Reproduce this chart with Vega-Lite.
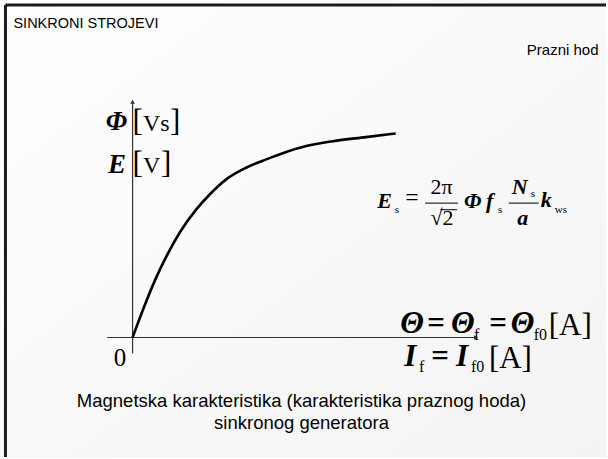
{
  "$schema": "https://vega.github.io/schema/vega-lite/v6.json",
  "width": 608,
  "height": 459,
  "autosize": {"type": "fit", "contains": "padding"},
  "padding": 0,
  "background": "#ffffff",
  "config": {"view": {"stroke": null}},
  "datasets": {
    "sheet": [{"x0": -0.5038, "x1": 1.7992, "y0": -0.5854, "y1": 1.6537}],
    "frame": [
      {"x": -0.483, "x2": -0.483, "y": -0.5854, "y2": 1.629},
      {"x": -0.483, "x2": 1.7992, "y": 1.629, "y2": 1.629}
    ],
    "axes": [
      {"x": 0, "x2": 0, "y": -0.078, "y2": 1.155},
      {"x": -0.0966, "x2": 1.30, "y": 0, "y2": 0}
    ],
    "arrowUp": [{"x": 0, "y": 1.155}],
    "arrowRight": [{"x": 1.305, "y": 0}],
    "curve": [
      {"theta": 0.0, "value": 0.0},
      {"theta": 0.041, "value": 0.141},
      {"theta": 0.085, "value": 0.280},
      {"theta": 0.130, "value": 0.401},
      {"theta": 0.180, "value": 0.516},
      {"theta": 0.243, "value": 0.629},
      {"theta": 0.294, "value": 0.702},
      {"theta": 0.357, "value": 0.776},
      {"theta": 0.433, "value": 0.833},
      {"theta": 0.508, "value": 0.873},
      {"theta": 0.584, "value": 0.909},
      {"theta": 0.660, "value": 0.938},
      {"theta": 0.761, "value": 0.962},
      {"theta": 0.887, "value": 0.982},
      {"theta": 1.0, "value": 1.0}
    ],
    "headLeft": [{"text": "SINKRONI STROJEVI", "x": -0.4527, "y": 1.5171}],
    "headRight": [{"text": "Prazni hod", "x": 1.7708, "y": 1.3854}],
    "caption": [
      {"text": "Magnetska karakteristika (karakteristika praznog hoda)", "x": 0.642, "y": -0.3415},
      {"text": "sinkronog generatora", "x": 0.642, "y": -0.4488}
    ],
    "axisVars": [
      {"text": "Φ", "x": -0.0208, "y": 1.0146},
      {"text": "E", "x": -0.0246, "y": 0.8083}
    ],
    "axisBrackets": [
      {"text": "[", "x": 0.0, "y": 1.0122},
      {"text": "]", "x": 0.1420, "y": 1.0122},
      {"text": "[", "x": 0.0, "y": 0.8049},
      {"text": "]", "x": 0.1080, "y": 0.8049}
    ],
    "axisUnits": [
      {"text": "Vs", "x": 0.0398, "y": 1.0122},
      {"text": "V", "x": 0.0398, "y": 0.8049}
    ],
    "zero": [{"text": "0", "x": -0.0473, "y": -0.1415}],
    "eqVarsLeft": [
      {"text": "E", "x": 0.9299, "y": 0.6341},
      {"text": "Φ", "x": 1.2595, "y": 0.6341},
      {"text": "f", "x": 1.3428, "y": 0.6341},
      {"text": "k", "x": 1.5511, "y": 0.6390}
    ],
    "eqVarsCenter": [
      {"text": "N", "x": 1.4716, "y": 0.7024},
      {"text": "a", "x": 1.4830, "y": 0.5512}
    ],
    "eqNumCenter": [
      {"text": "2π", "x": 1.1742, "y": 0.7024},
      {"text": "√2", "x": 1.1761, "y": 0.5512}
    ],
    "eqSign": [{"text": "=", "x": 1.0360, "y": 0.6488}],
    "eqSubs": [
      {"text": "s", "x": 0.9962, "y": 0.6098},
      {"text": "s", "x": 1.3883, "y": 0.6098},
      {"text": "s", "x": 1.5133, "y": 0.6878},
      {"text": "ws", "x": 1.6042, "y": 0.6098}
    ],
    "eqBars": [
      {"x": 1.1117, "x2": 1.2368, "y": 0.6585, "y2": 0.6585},
      {"x": 1.4299, "x2": 1.5436, "y": 0.6585, "y2": 0.6585},
      {"x": 1.1700, "x2": 1.2330, "y": 0.6262, "y2": 0.6262}
    ],
    "bigVars": [
      {"text": "Θ", "x": 1.0170, "y": 0.0244},
      {"text": "=", "x": 1.1193, "y": 0.0244},
      {"text": "Θ", "x": 1.2102, "y": 0.0244},
      {"text": "=", "x": 1.3542, "y": 0.0244},
      {"text": "Θ", "x": 1.4375, "y": 0.0244},
      {"text": "I", "x": 1.0322, "y": -0.1415},
      {"text": "=", "x": 1.1345, "y": -0.1415},
      {"text": "I", "x": 1.2292, "y": -0.1415}
    ],
    "bigSubs": [
      {"text": "f", "x": 1.2973, "y": -0.0098},
      {"text": "f0", "x": 1.5246, "y": -0.0098},
      {"text": "f", "x": 1.0890, "y": -0.1707},
      {"text": "f0", "x": 1.2860, "y": -0.1707}
    ],
    "bigUnits": [
      {"text": "[A]", "x": 1.5814, "y": 0.0146},
      {"text": "[A]", "x": 1.3542, "y": -0.1512}
    ]
  },
  "encoding": {
    "x": {"field": "x", "type": "quantitative", "scale": {"domain": [-0.5038, 1.7992], "nice": false, "zero": false}, "axis": null},
    "y": {"field": "y", "type": "quantitative", "scale": {"domain": [-0.5854, 1.6537], "nice": false, "zero": false}, "axis": null}
  },
  "layer": [
    {
      "data": {"name": "sheet"},
      "mark": {"type": "rect", "fill": {"gradient": "linear", "x1": 0, "y1": 0, "x2": 1, "y2": 1, "stops": [{"offset": 0, "color": "#ffffff"}, {"offset": 1, "color": "#f3f3f3"}]}},
      "encoding": {
        "x": {"field": "x0", "type": "quantitative"},
        "x2": {"field": "x1"},
        "y": {"field": "y0", "type": "quantitative"},
        "y2": {"field": "y1"}
      }
    },
    {
      "data": {"name": "frame"},
      "mark": {"type": "rule", "color": "#1c1c1c", "strokeWidth": 3},
      "encoding": {"x2": {"field": "x2"}, "y2": {"field": "y2"}}
    },
    {
      "data": {"name": "axes"},
      "mark": {"type": "rule", "color": "#333333", "strokeWidth": 1.2},
      "encoding": {"x2": {"field": "x2"}, "y2": {"field": "y2"}}
    },
    {
      "data": {"name": "arrowUp"},
      "mark": {"type": "point", "shape": "triangle-up", "filled": true, "color": "#333333", "size": 22, "opacity": 1}
    },
    {
      "data": {"name": "arrowRight"},
      "mark": {"type": "point", "shape": "triangle-right", "filled": true, "color": "#333333", "size": 22, "opacity": 1}
    },
    {
      "data": {"name": "curve"},
      "mark": {"type": "line", "color": "#000000", "strokeWidth": 2.6, "interpolate": "monotone"},
      "encoding": {
        "x": {"field": "theta", "type": "quantitative"},
        "y": {"field": "value", "type": "quantitative"}
      }
    },
    {
      "data": {"name": "headLeft"},
      "mark": {"type": "text", "font": "Liberation Sans", "fontSize": 14.5, "align": "left", "baseline": "alphabetic", "color": "#000000"},
      "encoding": {"text": {"field": "text"}}
    },
    {
      "data": {"name": "headRight"},
      "mark": {"type": "text", "font": "Liberation Sans", "fontSize": 15, "align": "right", "baseline": "alphabetic", "color": "#000000"},
      "encoding": {"text": {"field": "text"}}
    },
    {
      "data": {"name": "caption"},
      "mark": {"type": "text", "font": "Liberation Sans", "fontSize": 18.5, "align": "center", "baseline": "alphabetic", "color": "#000000"},
      "encoding": {"text": {"field": "text"}}
    },
    {
      "data": {"name": "axisVars"},
      "mark": {"type": "text", "font": "Liberation Serif", "fontSize": 27, "fontWeight": "bold", "fontStyle": "italic", "align": "right", "baseline": "alphabetic", "color": "#000000"},
      "encoding": {"text": {"field": "text"}}
    },
    {
      "data": {"name": "axisBrackets"},
      "mark": {"type": "text", "font": "Liberation Serif", "fontSize": 31, "align": "left", "baseline": "alphabetic", "color": "#000000"},
      "encoding": {"text": {"field": "text"}}
    },
    {
      "data": {"name": "axisUnits"},
      "mark": {"type": "text", "font": "Liberation Serif", "fontSize": 24, "align": "left", "baseline": "alphabetic", "color": "#000000"},
      "encoding": {"text": {"field": "text"}}
    },
    {
      "data": {"name": "zero"},
      "mark": {"type": "text", "font": "Liberation Serif", "fontSize": 25, "align": "center", "baseline": "alphabetic", "color": "#000000"},
      "encoding": {"text": {"field": "text"}}
    },
    {
      "data": {"name": "eqVarsLeft"},
      "mark": {"type": "text", "font": "Liberation Serif", "fontSize": 22, "fontWeight": "bold", "fontStyle": "italic", "align": "left", "baseline": "alphabetic", "color": "#000000"},
      "encoding": {"text": {"field": "text"}}
    },
    {
      "data": {"name": "eqVarsCenter"},
      "mark": {"type": "text", "font": "Liberation Serif", "fontSize": 22, "fontWeight": "bold", "fontStyle": "italic", "align": "center", "baseline": "alphabetic", "color": "#000000"},
      "encoding": {"text": {"field": "text"}}
    },
    {
      "data": {"name": "eqNumCenter"},
      "mark": {"type": "text", "font": "Liberation Serif", "fontSize": 22, "align": "center", "baseline": "alphabetic", "color": "#000000"},
      "encoding": {"text": {"field": "text"}}
    },
    {
      "data": {"name": "eqSign"},
      "mark": {"type": "text", "font": "Liberation Serif", "fontSize": 24, "align": "left", "baseline": "alphabetic", "color": "#000000"},
      "encoding": {"text": {"field": "text"}}
    },
    {
      "data": {"name": "eqSubs"},
      "mark": {"type": "text", "font": "Liberation Serif", "fontSize": 11, "align": "left", "baseline": "alphabetic", "color": "#000000"},
      "encoding": {"text": {"field": "text"}}
    },
    {
      "data": {"name": "eqBars"},
      "mark": {"type": "rule", "color": "#000000", "strokeWidth": 1},
      "encoding": {"x2": {"field": "x2"}, "y2": {"field": "y2"}}
    },
    {
      "data": {"name": "bigVars"},
      "mark": {"type": "text", "font": "Liberation Serif", "fontSize": 31, "fontWeight": "bold", "fontStyle": "italic", "align": "left", "baseline": "alphabetic", "color": "#000000"},
      "encoding": {"text": {"field": "text"}}
    },
    {
      "data": {"name": "bigSubs"},
      "mark": {"type": "text", "font": "Liberation Serif", "fontSize": 16, "align": "left", "baseline": "alphabetic", "color": "#000000"},
      "encoding": {"text": {"field": "text"}}
    },
    {
      "data": {"name": "bigUnits"},
      "mark": {"type": "text", "font": "Liberation Serif", "fontSize": 31, "align": "left", "baseline": "alphabetic", "color": "#000000"},
      "encoding": {"text": {"field": "text"}}
    }
  ]
}
